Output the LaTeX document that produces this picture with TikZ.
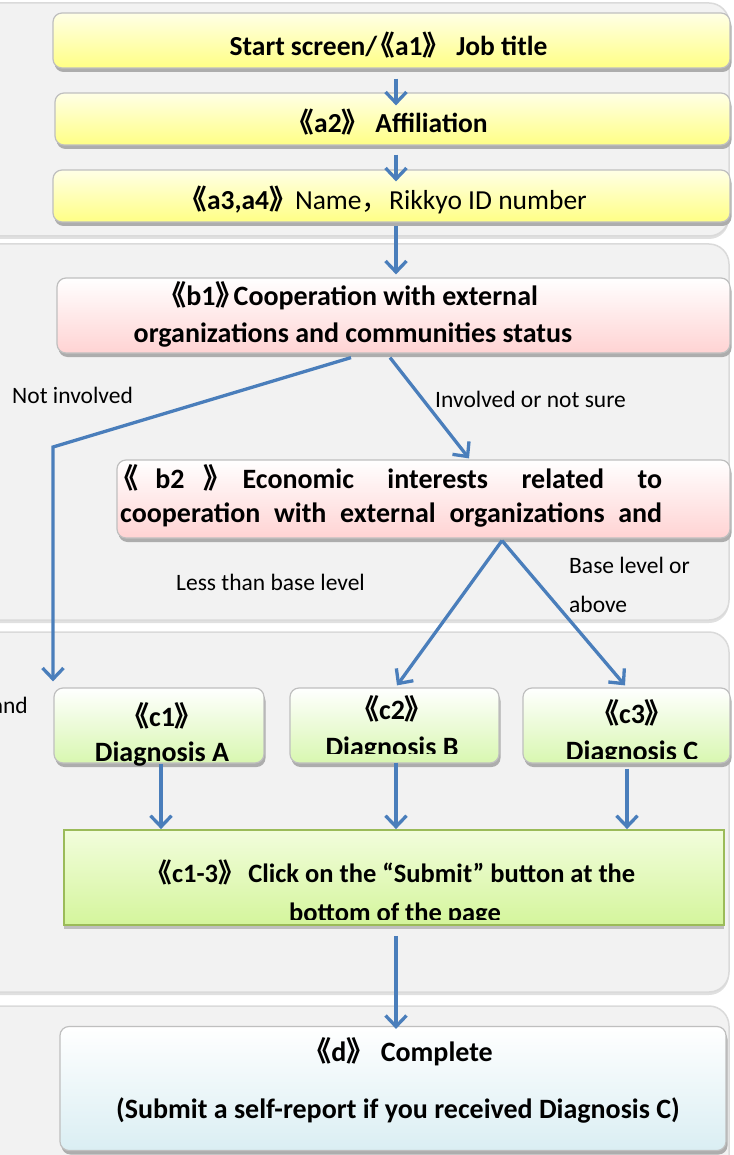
\documentclass[tikz,border=0pt]{standalone}
\usepackage{fontspec}
\setmainfont{Carlito}
\newfontfamily\cjk{Noto Sans CJK SC}
\usetikzlibrary{arrows.meta,shadows}
\newcommand{\bkl}{\kern-0.35em{\cjk 《}}
\newcommand{\bkr}{{\cjk 》}}
\newcommand{\bkrt}{{\cjk 》}\kern-0.35em}
\newcommand{\fwc}{{\cjk ，}}
\definecolor{panelbg}{HTML}{F2F2F2}
\definecolor{panelln}{HTML}{DADADA}
\definecolor{arrblue}{HTML}{4A7EBB}
\definecolor{boxln}{HTML}{BFBFBF}
\definecolor{ylwtop}{HTML}{FFFFE6}
\definecolor{ylwbot}{HTML}{FFFF85}
\definecolor{pinkbot}{HTML}{FFD3D3}
\definecolor{grnbot}{HTML}{D8F7B0}
\definecolor{cttop}{HTML}{F2FDDC}
\definecolor{ctbot}{HTML}{D4F59C}
\definecolor{ctln}{HTML}{9BBB59}
\definecolor{bluebot}{HTML}{DAEEF3}
\begin{document}
\begin{tikzpicture}[x=1pt,y=-1pt,
  panel/.style={fill=panelbg, draw=panelln, line width=1.5pt, rounded corners=20pt},
  box/.style={draw=boxln, line width=1.2pt, rounded corners=9pt, inner sep=0pt,
    drop shadow={shadow xshift=1.5pt,shadow yshift=-4pt,fill=black!32,opacity=1}},
  ybox/.style={box, top color=ylwtop, bottom color=ylwbot},
  pbox/.style={box, top color=white, bottom color=pinkbot},
  gbox/.style={box, top color=white, bottom color=grnbot},
  ctbox/.style={draw=ctln, line width=1.8pt, inner sep=0pt, top color=cttop, bottom color=ctbot,
    drop shadow={shadow xshift=0pt,shadow yshift=-4pt,fill=black!25,opacity=1}},
  dbox/.style={box, top color=white, bottom color=bluebot},
  arr/.style={draw=arrblue, line width=3.3pt, -{Straight Barb[length=11pt,width=21pt]}},
  lbl/.style={font=\fontsize{23.5}{39}\selectfont, inner sep=0pt, anchor=west},
  txt/.style={font=\fontsize{28}{37}\selectfont\bfseries, inner sep=0pt, align=center},
  atxt/.style={txt, font=\fontsize{27.5}{37}\selectfont\bfseries},
]
\useasboundingbox (0,0) rectangle (733,1155);
\clip (0,0) rectangle (733,1155);
% panels
\path[panel, drop shadow={shadow xshift=0pt,shadow yshift=-3pt,fill=black!12,opacity=1}] (-40,3) rectangle (729,236);
\path[panel, drop shadow={shadow xshift=0pt,shadow yshift=-3pt,fill=black!12,opacity=1}] (-40,244) rectangle (729,620);
\path[panel, drop shadow={shadow xshift=0pt,shadow yshift=-3pt,fill=black!12,opacity=1}] (-40,632) rectangle (729,992);
\path[panel, drop shadow={shadow xshift=0pt,shadow yshift=-3pt,fill=black!12,opacity=1}] (-40,1006) rectangle (729,1190);

% boxes
\node[ybox, minimum width=677pt, minimum height=55pt] (a1) at (391.5,40.5) {};
\node[ybox, minimum width=675pt, minimum height=52pt] (a2) at (392.5,119) {};
\node[ybox, minimum width=677pt, minimum height=52pt] (a3) at (391.5,196) {};
\node[pbox, minimum width=673pt, minimum height=75pt] (b1) at (393.5,315.5) {};
\node[pbox, minimum width=613pt, minimum height=78pt] (b2) at (423.5,499) {};
\node[gbox, minimum width=210pt, minimum height=75pt] (c1) at (159,725.5) {};
\node[gbox, minimum width=209pt, minimum height=75pt] (c2) at (394.5,725.5) {};
\node[gbox, minimum width=207pt, minimum height=75pt] (c3) at (626.5,725.5) {};
\node[ctbox, minimum width=660pt, minimum height=95pt] (c13) at (394,877.5) {};
\node[dbox, minimum width=666pt, minimum height=124pt] (d) at (393,1088.5) {};

% texts
\node[atxt] (a1t) at (388.5,45) {Start screen/\bkl a1\bkr\ Job title};
\node[atxt] (a2t) at (392,122) {\bkl a2\bkr\ Affiliation};
\node[atxt] (a3t) at (388,200) {\bkl a3,a4\bkrt\hspace{8pt}\mdseries Name\fwc Rikkyo ID number};
\node[txt] (b1t) at (353,314.5) {\bkl b1\bkrt Cooperation with external\\organizations and communities status};
\node[txt, anchor=west] (b2ta) at (120,478) {\makebox[542pt][s]{\bkl\hspace{17pt}b2\hspace{19pt}\bkr\hspace{11pt}Economic\hfill interests\hfill related\hfill to}};
\node[txt, anchor=west] (b2tb) at (120,515) {\makebox[542pt][s]{cooperation\hfill with\hfill external\hfill organizations\hfill and}};
\begin{scope}
\clip (54,688) rectangle (264,765);
\node[txt, font=\fontsize{28}{35}\selectfont\bfseries] (c1t) at (162,734.5) {\bkl c1\bkrt\\Diagnosis A};
\end{scope}
\begin{scope}
\clip (290,688) rectangle (499,753);
\node[txt] (c2t) at (392,728.5) {\bkl c2\bkrt\\Diagnosis B};
\end{scope}
\begin{scope}
\clip (523,688) rectangle (730,758);
\node[txt] (c3t) at (632,732.5) {\bkl c3\bkrt\\Diagnosis C};
\end{scope}
\begin{scope}
\clip (64,830) rectangle (724,919);
\node[txt, font=\fontsize{26.5}{39}\selectfont\bfseries] (c13t) at (395,892.5) {\bkl c1-3\bkrt\hspace{13pt}Click on the “Submit” button at the\\bottom of the page};
\end{scope}
\node[txt] (dta) at (403,1052) {\bkl d\bkr\ Complete};
\node[txt] (dtb) at (398,1110) {(Submit a self-report if you received Diagnosis C)};

% labels
\node[lbl] (l1) at (12,395) {Not involved};
\node[lbl] (l2) at (435,399) {Involved or not sure};
\node[lbl] (l3) at (176,582) {Less than base level};
\node[lbl] (l4) at (569,565) {Base level or};
\node[lbl] (l5) at (569,604) {above};
\node[lbl, anchor=east] (l6) at (28,705) {and};

% connectors
\coordinate (bend) at (53,447);
\draw[arr] ([xshift=4.5pt,yshift=-10pt]a1.south) -- ([xshift=3.5pt,yshift=-13pt]a2.north);
\draw[arr] ([xshift=3.5pt,yshift=-9pt]a2.south) -- ([xshift=4.5pt,yshift=-12pt]a3.north);
\draw[arr] ([xshift=4.5pt,yshift=-3pt]a3.south) -- ([xshift=2.5pt,yshift=3pt]b1.north);
\draw[arr] ([xshift=-3.5pt,yshift=-4pt]b1.south) -- ([xshift=45.5pt,yshift=1pt]b2.north);
\draw[arr] ([xshift=-42.5pt,yshift=-4pt]b1.south) -- (bend) -- ([xshift=-106pt,yshift=6pt]c1.north);
\draw[arr] ([xshift=78.5pt,yshift=-2pt]b2.south) -- ([xshift=2.5pt,yshift=2pt]c2.north);
\draw[arr] ([xshift=78.5pt,yshift=-2pt]b2.south) -- ([xshift=-1.5pt,yshift=2pt]c3.north);
\draw[arr] ([xshift=2pt]c1.south) -- ([xshift=2pt]c1.south |- c13.north);
\draw[arr] ([xshift=1.5pt,yshift=1pt]c2.south) -- ([xshift=1.5pt]c2.south |- c13.north);
\draw[arr] ([xshift=0.5pt,yshift=-5pt]c3.south) -- ([xshift=0.5pt]c3.south |- c13.north);
\draw[arr] ([xshift=2pt,yshift=-10pt]c13.south) -- ([xshift=3pt,yshift=-3pt]d.north);
\end{tikzpicture}
\end{document}
